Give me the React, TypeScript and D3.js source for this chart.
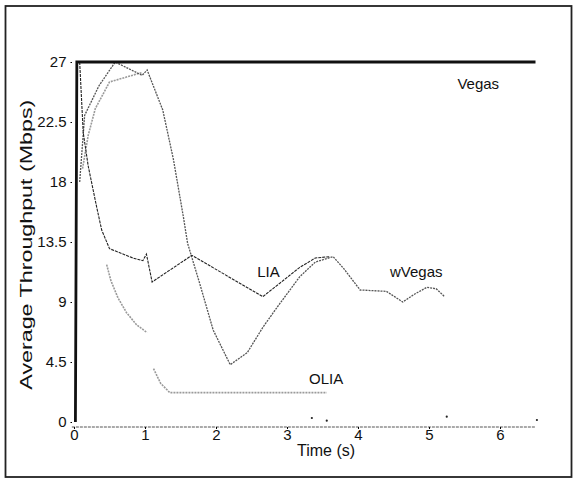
import React, { useEffect, useRef } from "react";
import { select, scaleLinear, line, axisBottom, axisLeft } from "d3";

// x tick labels and y tick labels
const xTicks = [0, 1, 2, 3, 4, 5, 6];
const yTicks = [0, 4.5, 9, 13.5, 18, 22.5, 27];

// [time (s), throughput (Mbps)], null = gap in line
const vegas: ([number, number] | null)[] = [
  [0.02, 0], [0.04, 27], [6.5, 27]
];
const lia: ([number, number] | null)[] = [
  [0.08, 27], [0.13, 21.7], [0.2, 19.2], [0.32, 16.1], [0.39, 14.4], [0.5, 13.0],
  [0.83, 12.3], [0.97, 12.1], [1.02, 12.6], [1.1, 10.5], [1.66, 12.5], [2.66, 9.4],
  [3.18, 11.6], [3.4, 12.3], [3.6, 12.4]
];
const wvegas: ([number, number] | null)[] = [
  [0.08, 18], [0.15, 23], [0.35, 25.2], [0.58, 27], [0.96, 26], [1.03, 26.4],
  [1.25, 23.4], [1.4, 19.7], [1.54, 15.4], [1.6, 13.4], [1.77, 10.4], [1.96, 6.9],
  [2.2, 4.3], [2.44, 5.2], [2.66, 7.1], [2.86, 8.6], [3.18, 10.9], [3.4, 12.0],
  [3.65, 12.4], [3.8, 11.5], [4.03, 9.9], [4.4, 9.8], [4.63, 9.0], [4.8, 9.6],
  [4.97, 10.1], [5.1, 10.0], [5.22, 9.4]
];
const olia: ([number, number] | null)[] = [
  [0.12, 19], [0.2, 21.5], [0.3, 23.5], [0.5, 25.5], [0.95, 26.2], null,
  [0.46, 11.8], [0.52, 10.6], [0.62, 9.3], [0.74, 8.2], [0.88, 7.3], [1.03, 6.7], null,
  [1.12, 4.0], [1.22, 2.9], [1.35, 2.2], [3.56, 2.2]
];
const strayDots: [number, number][] = [
  [3.35, 0.3], [3.56, 0.1], [5.25, 0.4], [6.52, 0.15]
];

const labels = [
  { text: "Vegas", t: 5.4, v: 25 },
  { text: "LIA", t: 2.58, v: 10.9 },
  { text: "wVegas", t: 4.45, v: 10.9 },
  { text: "OLIA", t: 3.31, v: 2.85 }
];

function App() {
  const svgRef = useRef<SVGSVGElement>(null);

  useEffect(() => {
    const svg = select(svgRef.current);
    svg.selectAll("*").remove();
    const font = "'Liberation Sans', Arial, sans-serif";
    const narrow = "'Liberation Sans Narrow', 'Liberation Sans', Arial, sans-serif";

    // outer frame
    svg.append("rect")
      .attr("x", 5.5).attr("y", 6).attr("width", 566).attr("height", 471)
      .attr("fill", "white").attr("stroke", "#222").attr("stroke-width", 1.8);

    const xScale = scaleLinear().domain([0, 6]).range([74, 500]);
    const yScale = scaleLinear().domain([0, 27]).range([422, 62]);

    // x axis
    const gx = svg.append("g").attr("transform", "translate(0,427)")
      .call(axisBottom(xScale).tickValues(xTicks).tickSize(2).tickSizeOuter(0).tickFormat(d => String(d)));
    gx.select(".domain").attr("d", `M${xScale(-0.03)},0H${xScale(6.5)}`)
      .attr("stroke", "#555").attr("stroke-dasharray", "3,1");
    gx.selectAll("text").attr("font-family", narrow).attr("font-size", 15)
      .attr("fill", "#111").attr("dy", "0.5em");

    // y axis
    const gy = svg.append("g").attr("transform", "translate(72,0)")
      .call(axisLeft(yScale).tickValues(yTicks).tickSize(1.5).tickPadding(4).tickFormat(d => String(d)));
    gy.select(".domain").remove();
    gy.selectAll("text").attr("font-family", narrow).attr("font-size", 15).attr("fill", "#111");

    svg.append("text")
      .attr("transform", `translate(32,${yScale(13.3)}) rotate(-90)`)
      .attr("text-anchor", "middle")
      .attr("textLength", 290).attr("lengthAdjust", "spacingAndGlyphs")
      .attr("font-family", font).attr("font-size", 16).attr("fill", "#111")
      .text("Average Throughput (Mbps)");
    svg.append("text")
      .attr("x", xScale(3.55)).attr("y", 456)
      .attr("text-anchor", "middle")
      .attr("font-family", narrow).attr("font-size", 16).attr("fill", "#111")
      .text("Time (s)");

    const lineGen = line<[number, number] | null>()
      .defined(d => d !== null)
      .x(d => xScale(d![0]))
      .y(d => yScale(d![1]));

    const series = [
      { data: olia, stroke: "#9a9a9a", width: 1.6, dash: "2,1" },
      { data: wvegas, stroke: "#555", width: 1.3, dash: "2,1" },
      { data: lia, stroke: "#222", width: 1.1, dash: "3,1" },
      { data: vegas, stroke: "#111", width: 2.8, dash: null }
    ];

    svg.selectAll(".series")
      .data(series)
      .join("path")
      .attr("class", "series")
      .attr("fill", "none")
      .attr("stroke", s => s.stroke)
      .attr("stroke-width", s => s.width)
      .attr("stroke-dasharray", s => s.dash)
      .attr("d", s => lineGen(s.data));

    svg.selectAll(".stray")
      .data(strayDots)
      .join("circle")
      .attr("class", "stray")
      .attr("cx", d => xScale(d[0]))
      .attr("cy", d => yScale(d[1]))
      .attr("r", 1.1)
      .attr("fill", "#222");

    svg.selectAll(".lbl")
      .data(labels)
      .join("text")
      .attr("class", "lbl")
      .attr("x", d => xScale(d.t))
      .attr("y", d => yScale(d.v))
      .attr("font-family", font).attr("font-size", 15).attr("fill", "#111")
      .text(d => d.text);
  }, []);

  return (
    <svg ref={svgRef} width={576} height={479}
      style={{ position: "absolute", left: 0, top: 0, background: "white" }} />
  );
}

export default App;
